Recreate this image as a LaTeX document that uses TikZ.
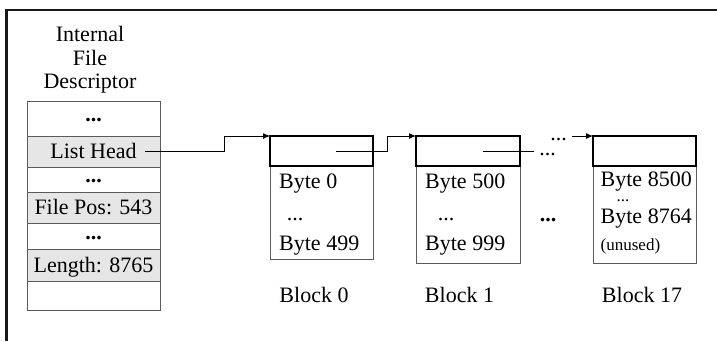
\documentclass[tikz,border=0pt]{standalone}
\usepackage{fontspec}
\setmainfont{Liberation Serif}
\usetikzlibrary{positioning,arrows.meta,calc}
\definecolor{fdGray}{HTML}{E6E6E6}
\definecolor{fdLine}{HTML}{5A5A5A}
\newcommand{\bigdots}{\textbf{...}}
\tikzset{
  frameline/.style={line width=2.4pt,draw=black!90},
  descrow/.style={draw=fdLine,line width=0.9pt,minimum width=133pt,inner sep=0pt,
    outer sep=0pt,text height=14.6pt,text depth=0pt},
  dotrow/.style={descrow,text height=6pt},
  fieldrow/.style={descrow,fill=fdGray},
  blkhead/.style={draw=black,line width=1.5pt,minimum height=30pt,inner sep=0pt,
    outer sep=0pt},
  blkbody/.style={draw=fdLine,line width=0.9pt,inner sep=0pt,outer sep=0pt},
  bytelabel/.style={anchor=base west,inner sep=0pt},
  dotlabel/.style={anchor=base,inner sep=0pt},
  arrow/.style={-{Latex[length=7pt,width=6pt]},line width=1pt,draw=black},
  link/.style={line width=1pt,draw=black},
  smalltext/.style={font=\fontsize{17}{20}\selectfont}
}

\begin{document}
\begin{tikzpicture}[x=1pt,y=-1pt,font=\fontsize{22}{23.5}\selectfont]
  \useasboundingbox (0,0) rectangle (717,341);
  \draw[frameline] (6.5,341) -- (6.5,10) -- (717,10);

  % descriptor
  \node[anchor=north,align=center,inner sep=0pt] (title) at (90,26.5) {Internal\\File\\Descriptor};
  \node[dotrow,minimum height=35pt,anchor=north] (d1) at (93.5,101) {\bigdots};
  \node[fieldrow,minimum height=31pt,below=0pt of d1] (head) {List Head};
  \node[dotrow,minimum height=25pt,below=0pt of head] (d2) {\bigdots};
  \node[fieldrow,minimum height=31pt,below=0pt of d2] (pos) {File Pos: 543};
  \node[dotrow,minimum height=26pt,below=0pt of pos] (d3) {\bigdots};
  \node[fieldrow,minimum height=32pt,below=0pt of d3] (len) {Length: 8765};
  \node[descrow,minimum height=29pt,below=0pt of len] (d4) {};

  % blocks
  \node[blkbody,minimum width=103pt,minimum height=93pt,anchor=north west] (b0b) at (270,166) {};
  \node[blkhead,minimum width=103pt,above=0pt of b0b] (b0h) {};
  \node[bytelabel] (b0a) at (279,188) {Byte 0};
  \node[dotlabel] (b0d) at (295,220) {...};
  \node[bytelabel] (b0z) at (279,250.5) {Byte 499};

  \node[blkbody,minimum width=104pt,minimum height=97pt,anchor=north west] (b1b) at (416,166) {};
  \node[blkhead,minimum width=104pt,above=0pt of b1b] (b1h) {};
  \node[bytelabel] (b1a) at (425,188) {Byte 500};
  \node[dotlabel] (b1d) at (446,220) {...};
  \node[bytelabel] (b1z) at (425,250.5) {Byte 999};

  \node[blkbody,minimum width=103pt,minimum height=97pt,anchor=north west] (b17b) at (593,166) {};
  \node[blkhead,minimum width=103pt,above=0pt of b17b] (b17h) {};
  \node[bytelabel] (b17a) at (600.5,186.5) {Byte 8500};
  \node[dotlabel,smalltext] (b17d) at (623,201) {...};
  \node[bytelabel] (b17z) at (600.5,223) {Byte 8764};
  \node[bytelabel,smalltext] (b17u) at (600.5,250) {(unused)};

  \node[dotlabel] (gap) at (548,221) {\bigdots};

  \node (lbl0) at (314,295) {Block 0};
  \node (lbl1) at (459.5,295) {Block 1};
  \node (lbl17) at (642,295) {Block 17};

  % pointers
  \node[dotlabel] (dA) at (547.5,155) {...};
  \node[dotlabel] (dB) at (558.5,140) {...};
  \coordinate (s0) at ([xshift=-15pt]head.east);
  \coordinate (s1) at ([xshift=14.5pt]b0h.center);
  \coordinate (s2) at ([xshift=15pt]b1h.center);
  \draw[arrow] (s0) -- ++(79,0) |- (b0h.north west);
  \draw[arrow] (s1) -- ++(51,0) |- (b1h.north west);
  \draw[link,shorten >=5pt] (s2) -- (s2 -| dA.west);
  \draw[arrow,shorten <=5pt] (dB.east |- b17h.north) -- (b17h.north west);
\end{tikzpicture}
\end{document}
